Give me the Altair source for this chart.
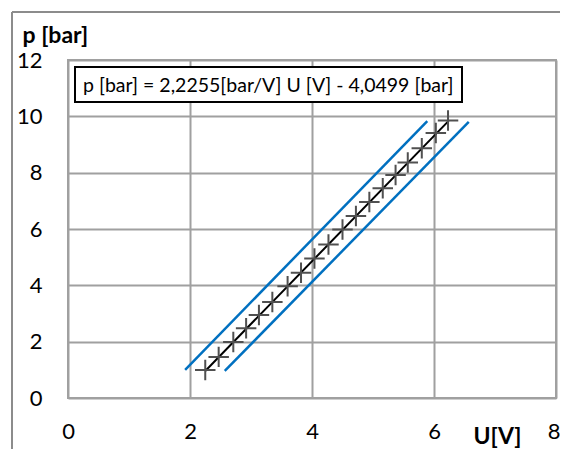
import altair as alt
import pandas as pd

# measured points (U [V], p [bar])
u_pts = [2.25, 2.47, 2.71, 2.92, 3.13, 3.35, 3.60, 3.82, 4.04, 4.27, 4.50, 4.72,
         4.94, 5.16, 5.37, 5.57, 5.80, 6.03, 6.23]
p_pts = [0.99, 1.46, 1.99, 2.48, 2.95, 3.41, 3.97, 4.45, 4.95, 5.45, 5.98, 6.46,
         6.96, 7.45, 7.92, 8.36, 8.87, 9.41, 9.85]

# regression line endpoints
fit_u = [2.25, 6.24]
fit_p = [0.96, 9.84]

# band lines
upper_u = [1.92, 5.89]
upper_p = [1.00, 9.83]
lower_u = [2.57, 6.57]
lower_p = [0.96, 9.80]

x_ticks = [0, 2, 4, 6, 8]
y_ticks = [0, 2, 4, 6, 8, 10, 12]
equation = "p [bar] = 2,2255[bar/V] U [V] - 4,0499 [bar]"

FONT = "Lato"
GRID = "#a0a0a0"

pts = pd.DataFrame({"U": u_pts, "p": p_pts})
fit = pd.DataFrame({"U": fit_u, "p": fit_p})
band = pd.DataFrame({
    "U": upper_u + lower_u,
    "p": upper_p + lower_p,
    "g": ["upper"] * len(upper_u) + ["lower"] * len(lower_u),
})

xs = alt.Scale(domain=[0, 8], nice=False)
ys = alt.Scale(domain=[0, 12], nice=False)

xax = alt.Axis(values=x_ticks, format="d", title="U[V]", grid=True, gridColor=GRID, gridWidth=2,
               domain=False, ticks=False, labelFont=FONT, labelFontSize=22,
               labelColor="black", labelPadding=23, labelBaseline="top",
               labelFlush=False, labelOverlap=False,
               labelAlign=alt.expr("datum.value == 8 ? 'right' : 'center'"),
               labelOffset=alt.expr("datum.value == 8 ? 4 : 0"),
               titleFont=FONT, titleFontSize=23, titleFontWeight="bold",
               titleColor="black", titleX=429, titleY=45, titleAlign="center",
               titleBaseline="alphabetic")
yax = alt.Axis(values=y_ticks, format="d", title="p [bar]", grid=True, gridColor=GRID, gridWidth=2,
               domain=False, ticks=False, labelFont=FONT, labelFontSize=22,
               labelColor="black", labelPadding=26, labelFlush=False, labelOverlap=False,
               titleFont=FONT, titleFontSize=23, titleFontWeight="bold",
               titleColor="black", titleAngle=0, titleX=-46, titleY=-18,
               titleAlign="left", titleBaseline="alphabetic")

base_band = alt.Chart(band).mark_line(color="#0070C0", strokeWidth=2.5).encode(
    x=alt.X("U:Q", scale=xs, axis=xax),
    y=alt.Y("p:Q", scale=ys, axis=yax),
    detail="g:N",
)

fit_line = alt.Chart(fit).mark_line(color="black", strokeWidth=2).encode(
    x=alt.X("U:Q", scale=xs), y=alt.Y("p:Q", scale=ys))

crosses = alt.Chart(pts).mark_point(
    shape="M-1,0L1,0M0,-1L0,1", size=420, filled=False, color="#505050",
    strokeWidth=2, opacity=1).encode(
    x=alt.X("U:Q", scale=xs), y=alt.Y("p:Q", scale=ys))

box = alt.Chart(pd.DataFrame({"t": [equation]})).mark_rect(
    fill="white", stroke="black", strokeWidth=2).encode(
    x=alt.value(7), x2=alt.value(394), y=alt.value(7), y2=alt.value(42))

label = alt.Chart(pd.DataFrame({"t": [equation]})).mark_text(
    font=FONT, fontSize=19.5, color="black", align="left", baseline="alphabetic").encode(
    x=alt.value(15), y=alt.value(32), text="t:N")

outer_left = alt.Chart(pd.DataFrame({"a": [0]})).mark_rule(color="#8c8c8c", strokeWidth=2).encode(
    x=alt.value(-56), y=alt.value(-48), y2=alt.value(420))
outer_top = alt.Chart(pd.DataFrame({"a": [0]})).mark_rule(color="#8c8c8c", strokeWidth=2).encode(
    x=alt.value(-56), x2=alt.value(520), y=alt.value(-48))

chart = alt.layer(base_band, fit_line, crosses, box, label, outer_left, outer_top).properties(
    width=488, height=338,
    autosize=alt.AutoSizeParams(type="none"),
    padding={"left": 60, "top": 52, "right": 4, "bottom": 51},
    background="white",
).configure_view(stroke=GRID, strokeWidth=2)

chart.save("out.html", embed_options={"renderer": "svg", "actions": False})
